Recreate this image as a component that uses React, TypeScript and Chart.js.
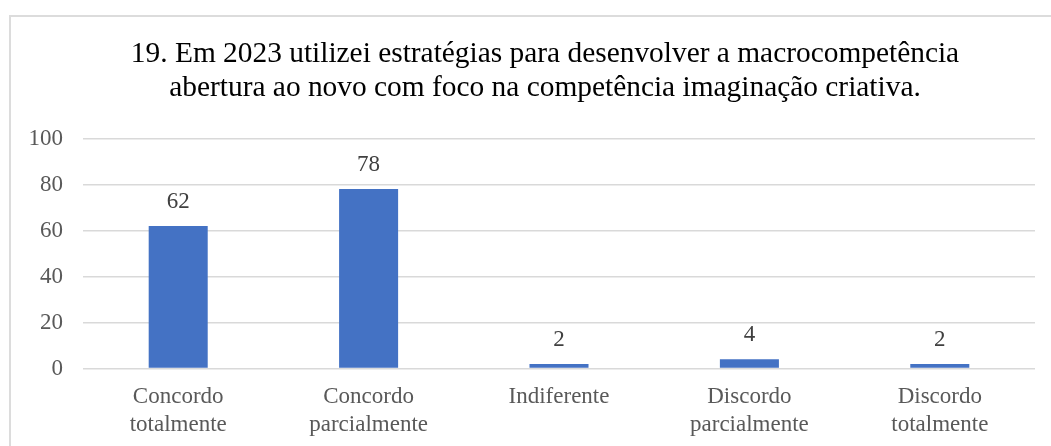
import React, { useEffect, useRef } from "react";
import { Chart, registerables } from "chart.js";

Chart.register(...registerables);

const categories: string[][] = [
  ["Concordo", "totalmente"],
  ["Concordo", "parcialmente"],
  ["Indiferente"],
  ["Discordo", "parcialmente"],
  ["Discordo", "totalmente"],
];
const values: number[] = [62, 78, 2, 4, 2];
const yTicks: number[] = [0, 20, 40, 60, 80, 100];
const titleLines: string[] = [
  "19. Em 2023 utilizei estratégias para desenvolver a macrocompetência",
  "abertura ao novo com foco na competência imaginação criativa.",
];

const FONT = "'Liberation Serif', 'Times New Roman', serif";
const CANVAS_W = 1080;
const CANVAS_H = 446;

const dataLabels = {
  id: "dataLabels",
  afterDatasetsDraw(chart: any) {
    const ctx = chart.ctx;
    const meta = chart.getDatasetMeta(0);
    ctx.save();
    ctx.font = `23px ${FONT}`;
    ctx.fillStyle = "#404040";
    ctx.textAlign = "center";
    ctx.textBaseline = "middle";
    meta.data.forEach((bar: any, i: number) => {
      ctx.fillText(String(values[i]), bar.x, bar.y - 24);
    });
    ctx.restore();
  },
};

export default function App() {
  const ref = useRef<HTMLCanvasElement>(null);
  useEffect(() => {
    if (!ref.current) return;
    const chart = new Chart(ref.current, {
      type: "bar",
      data: {
        labels: categories,
        datasets: [
          {
            data: values,
            backgroundColor: "#4472C4",
            categoryPercentage: 1,
            barPercentage: 0.31,
          },
        ],
      },
      options: {
        responsive: false,
        animation: false,
        layout: { padding: { left: 10, right: 0, top: 0, bottom: 6 } },
        plugins: {
          legend: { display: false },
          tooltip: { enabled: false },
          title: {
            display: true,
            text: titleLines,
            color: "#000000",
            font: { family: FONT, size: 29.4, weight: "normal", lineHeight: "34px" },
            padding: { top: 37, bottom: 33.5 },
          },
        },
        scales: {
          x: {
            afterFit: (scale: any) => {
              scale.height = 71.5;
            },
            grid: { display: false, drawTicks: false },
            border: { display: false },
            ticks: {
              color: "#595959",
              font: { family: FONT, size: 23, lineHeight: "28px" },
              padding: 14.7,
              maxRotation: 0,
              autoSkip: false,
            },
          },
          y: {
            min: 0,
            max: 100,
            afterFit: (scale: any) => {
              scale.width = 73;
            },
            afterBuildTicks: (scale: any) => {
              scale.ticks = yTicks.map((v) => ({ value: v }));
            },
            grid: { color: "#d9d9d9", lineWidth: 1.5, drawTicks: false },
            border: { display: false },
            ticks: {
              color: "#595959",
              font: { family: FONT, size: 23 },
              padding: 20,
            },
          },
          spacer: {
            type: "linear",
            position: "right",
            afterFit: (scale: any) => {
              scale.width = 45;
            },
            grid: { display: false, drawTicks: false },
            border: { display: false },
            ticks: { display: false },
          },
        },
      },
      plugins: [dataLabels],
    });
    return () => chart.destroy();
  }, []);

  return (
    <div
      style={{
        position: "fixed",
        left: 0,
        top: 0,
        width: 1051,
        height: 446,
        overflow: "hidden",
        background: "#ffffff",
      }}
    >
      <div
        style={{
          position: "absolute",
          left: 9,
          top: 15,
          width: 1200,
          height: 600,
          borderLeft: "2px solid #dcdcdc",
          borderTop: "2px solid #dcdcdc",
          boxSizing: "border-box",
        }}
      />
      <canvas
        ref={ref}
        width={CANVAS_W}
        height={CANVAS_H}
        style={{ position: "absolute", left: 0, top: 0, width: CANVAS_W, height: CANVAS_H }}
      />
    </div>
  );
}
